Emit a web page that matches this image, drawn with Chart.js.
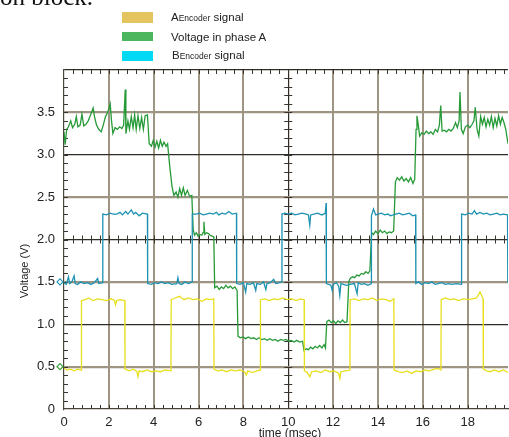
<!DOCTYPE html>
<html>
<head>
<meta charset="utf-8">
<script src="https://cdn.jsdelivr.net/npm/chart.js"></script>
<style>
    html, body { margin: 0; padding: 0; background: #fff; overflow: hidden; }
    #wrap { position: relative; width: 509px; height: 437px; font-family: "Liberation Sans", Arial, sans-serif; color: #222; }
    #chart { position: absolute; left: 0; top: 0; }
    .cut { position: absolute; left: 0; top: -16px; font: 25px/25px "Liberation Serif", serif; color: #111; white-space: nowrap; }
    .legend-box { position: absolute; left: 122px; width: 31px; }
    .legend-text { position: absolute; left: 171px; font-size: 11.5px; line-height: 12px; white-space: nowrap; }
    .legend-text small { font-size: 8.5px; }
    .x-title { position: absolute; left: 250px; top: 426px; width: 80px; text-align: center; font-size: 12px; }
    .y-title { position: absolute; left: -16px; top: 265px; width: 80px; text-align: center; font-size: 11px; transform: rotate(-90deg); }
</style>
</head>
<body>
<div id="wrap">
    <canvas id="chart" width="509" height="437"></canvas>
    <div class="cut">on block.</div>
    <div class="legend-box" style="top:12px;height:11px;background:#e4c45e"></div>
    <div class="legend-box" style="top:32px;height:9px;background:#4cb65e"></div>
    <div class="legend-box" style="top:51px;height:10px;background:#00d9f4"></div>
    <div class="legend-text" style="top:11px">A<small>Encoder</small> signal</div>
    <div class="legend-text" style="top:31px">Voltage in phase A</div>
    <div class="legend-text" style="top:49px;left:172px">B<small>Encoder</small> signal</div>
    <div class="x-title">time (msec)</div>
    <div class="y-title">Voltage (V)</div>
</div>
<script>
// tick labels
const xTicks = [0, 2, 4, 6, 8, 10, 12, 14, 16, 18];
const yTicks = [0, 0.5, 1.0, 1.5, 2.0, 2.5, 3.0, 3.5, 4.0];
const yLabels = ['0', '0.5', '1.0', '1.5', '2.0', '2.5', '3.0', '3.5', ''];

// channel reference levels (scope markers on the left edge)
const markerLevels = [1.5, 0.5];

// [time ms, volts]
const aEncoder = [
    [0,0.48],[0.15,0.46],[0.3,0.47],[0.45,0.45],[0.6,0.47],[0.77,0.46],
    [0.78,1.28],[0.95,1.29],[1.1,1.31],[1.3,1.28],[1.5,1.30],[1.7,1.29],[1.9,1.28],[2.1,1.30],[2.25,1.28],[2.3,1.23],[2.35,1.28],[2.5,1.29],[2.71,1.28],
    [2.72,0.47],[2.9,0.45],[3.1,0.47],[3.25,0.44],[3.3,0.38],[3.35,0.45],[3.5,0.44],[3.7,0.46],[3.9,0.44],[4.1,0.45],[4.3,0.44],[4.5,0.46],[4.77,0.45],
    [4.78,1.29],[4.95,1.31],[5.15,1.33],[5.35,1.29],[5.55,1.31],[5.75,1.29],[5.95,1.30],[6.15,1.27],[6.35,1.30],[6.55,1.29],[6.68,1.30],
    [6.69,0.47],[6.85,0.45],[7.05,0.46],[7.25,0.44],[7.45,0.46],[7.65,0.45],[7.85,0.46],[8.05,0.44],[8.13,0.40],[8.2,0.45],[8.4,0.43],[8.6,0.45],[8.75,0.46],
    [8.76,1.29],[8.95,1.30],[9.15,1.28],[9.35,1.30],[9.55,1.29],[9.75,1.31],[9.95,1.29],[10.15,1.30],[10.35,1.28],[10.55,1.30],[10.71,1.29],
    [10.72,0.45],[10.85,0.43],[10.96,0.38],[11.05,0.44],[11.25,0.45],[11.45,0.43],[11.65,0.46],[11.85,0.44],[12.05,0.45],[12.25,0.42],[12.3,0.36],[12.35,0.44],[12.55,0.45],[12.75,0.46],
    [12.76,1.29],[12.95,1.30],[13.15,1.28],[13.35,1.30],[13.55,1.29],[13.75,1.31],[13.95,1.28],[14.15,1.30],[14.35,1.29],[14.55,1.27],[14.71,1.30],
    [14.72,0.46],[14.9,0.44],[15.1,0.43],[15.3,0.45],[15.5,0.42],[15.7,0.45],[15.9,0.44],[16.1,0.46],[16.3,0.45],[16.5,0.47],[16.7,0.48],[16.81,0.46],
    [16.82,1.29],[17.0,1.31],[17.2,1.29],[17.4,1.30],[17.6,1.28],[17.8,1.30],[18.0,1.29],[18.2,1.30],[18.4,1.31],[18.55,1.38],[18.69,1.30],
    [18.70,0.47],[18.85,0.45],[19.0,0.44],[19.2,0.46],[19.4,0.44],[19.6,0.46],[19.8,0.43]
];

const bEncoder = [
    [0,1.49],[0.1,1.47],[0.2,1.56],[0.25,1.48],[0.35,1.50],[0.45,1.57],[0.5,1.48],[0.6,1.47],[0.75,1.50],[0.9,1.48],[1.05,1.49],[1.2,1.47],[1.35,1.49],[1.5,1.54],[1.55,1.48],[1.72,1.49],
    [1.73,2.30],[1.9,2.29],[2.05,2.31],[2.2,2.30],[2.35,2.30],[2.5,2.32],[2.6,2.29],[2.75,2.33],[2.85,2.30],[3.0,2.35],[3.1,2.30],[3.2,2.32],[3.35,2.28],[3.5,2.31],[3.72,2.30],
    [3.73,1.48],[3.9,1.47],[4.05,1.49],[4.2,1.48],[4.35,1.50],[4.5,1.48],[4.65,1.49],[4.8,1.47],[5.03,1.48],[5.08,1.55],[5.13,1.48],[5.25,1.47],[5.4,1.50],[5.55,1.48],[5.71,1.50],
    [5.72,2.30],[5.9,2.30],[6.05,2.31],[6.2,2.29],[6.35,2.30],[6.5,2.31],[6.65,2.30],[6.8,2.32],[6.9,2.29],[7.05,2.31],[7.2,2.30],[7.35,2.33],[7.5,2.30],[7.69,2.31],
    [7.70,1.48],[7.85,1.47],[8.0,1.49],[8.1,1.38],[8.15,1.48],[8.3,1.47],[8.45,1.49],[8.55,1.40],[8.6,1.48],[8.75,1.47],[8.9,1.50],[9.0,1.41],[9.05,1.48],[9.2,1.49],[9.35,1.53],[9.45,1.48],[9.6,1.49],[9.71,1.50],
    [9.72,2.30],[9.85,2.31],[10.0,2.30],[10.15,2.31],[10.3,2.29],[10.45,2.30],[10.6,2.31],[10.8,2.30],[10.9,2.29],[10.96,2.17],[11.0,2.29],[11.15,2.30],[11.3,2.31],[11.5,2.29],[11.65,2.31],[11.69,2.43],
    [11.70,1.48],[11.8,1.47],[11.9,1.46],[11.96,1.40],[12.0,1.47],[12.15,1.49],[12.25,1.45],[12.3,1.34],[12.35,1.48],[12.6,1.46],[12.75,1.47],[12.95,1.48],[13.07,1.36],[13.12,1.49],[13.25,1.47],[13.4,1.48],[13.55,1.46],[13.7,1.48],
    [13.71,2.28],[13.8,2.36],[13.9,2.29],[14.0,2.30],[14.15,2.31],[14.3,2.29],[14.45,2.30],[14.55,2.28],[14.68,2.29],[14.8,2.30],[14.95,2.31],[15.1,2.29],[15.25,2.30],[15.4,2.31],[15.55,2.28],[15.68,2.29],
    [15.69,1.48],[15.8,1.50],[15.95,1.47],[16.1,1.49],[16.25,1.48],[16.4,1.50],[16.55,1.47],[16.7,1.48],[16.85,1.49],[17.0,1.47],[17.15,1.48],[17.3,1.47],[17.5,1.48],[17.72,1.47],
    [17.73,2.30],[17.9,2.29],[18.05,2.31],[18.2,2.30],[18.3,2.34],[18.4,2.30],[18.55,2.32],[18.7,2.30],[18.85,2.31],[19.0,2.29],[19.15,2.30],[19.3,2.31],[19.45,2.29],[19.6,2.30],[19.78,2.29],
    [19.79,1.50],[19.8,1.49]
];

const phaseA = [
    [0,3.27],[0.05,3.12],[0.12,3.30],[0.2,3.33],[0.3,3.40],[0.38,3.32],[0.48,3.36],[0.55,3.45],[0.62,3.33],[0.72,3.35],[0.8,3.48],[0.88,3.34],[0.98,3.36],[1.08,3.40],[1.2,3.48],[1.3,3.55],[1.36,3.45],[1.45,3.35],[1.55,3.30],[1.66,3.27],
    [1.75,3.35],[1.85,3.45],[1.95,3.50],[2.06,3.60],[2.12,3.40],[2.18,3.25],[2.28,3.32],[2.38,3.30],[2.48,3.33],[2.58,3.31],[2.66,3.35],[2.73,3.77],[2.76,3.25],[2.85,3.40],[2.92,3.30],[3.0,3.45],[3.08,3.32],[3.15,3.47],[3.22,3.30],[3.3,3.46],[3.38,3.31],[3.46,3.44],[3.54,3.30],[3.62,3.46],[3.72,3.47],
    [3.8,3.13],[3.9,3.10],[3.98,3.17],[4.06,3.09],[4.14,3.16],[4.22,3.08],[4.3,3.17],[4.38,3.10],[4.46,3.15],[4.55,3.10],[4.62,3.13],
    [4.72,2.85],[4.82,2.62],[4.9,2.52],[5.0,2.56],[5.08,2.50],[5.16,2.60],[5.24,2.52],[5.32,2.61],[5.4,2.52],[5.5,2.58],[5.6,2.51],[5.7,2.52],
    [5.76,2.12],[5.82,2.05],[5.9,2.08],[5.98,2.04],[6.06,2.06],[6.14,2.05],[6.2,2.08],[6.24,2.21],[6.28,2.06],[6.36,2.08],[6.44,2.07],[6.52,2.05],[6.6,2.04],[6.68,2.03],
    [6.72,1.43],[6.82,1.45],[6.92,1.41],[7.02,1.44],[7.12,1.42],[7.22,1.46],[7.32,1.43],[7.42,1.45],[7.52,1.42],[7.62,1.44],[7.72,1.40],
    [7.76,0.86],[7.86,0.84],[7.98,0.85],[8.1,0.83],[8.22,0.85],[8.34,0.83],[8.46,0.84],[8.58,0.82],[8.7,0.84],[8.82,0.82],[8.94,0.83],[9.06,0.81],[9.18,0.83],[9.3,0.81],[9.42,0.82],[9.54,0.80],[9.66,0.82],[9.78,0.81],[9.9,0.82],[10.02,0.80],[10.14,0.81],[10.26,0.79],[10.38,0.81],[10.5,0.79],[10.64,0.80],
    [10.7,0.69],[10.8,0.71],[10.9,0.70],[11.0,0.73],[11.1,0.71],[11.2,0.74],[11.3,0.72],[11.4,0.75],[11.5,0.72],[11.6,0.76],[11.66,0.72],
    [11.72,1.03],[11.82,1.05],[11.92,1.02],[12.02,1.04],[12.12,1.01],[12.22,1.04],[12.32,1.02],[12.42,1.05],[12.52,1.02],[12.62,1.03],
    [12.7,1.50],[12.76,1.54],[12.86,1.56],[12.96,1.55],[13.06,1.58],[13.16,1.57],[13.26,1.60],[13.36,1.59],[13.46,1.62],[13.56,1.60],[13.64,1.63],
    [13.72,2.08],[13.8,2.06],[13.9,2.10],[14.0,2.07],[14.1,2.11],[14.2,2.08],[14.3,2.10],[14.4,2.07],[14.5,2.09],[14.6,2.08],[14.7,2.10],
    [14.78,2.68],[14.86,2.73],[14.96,2.70],[15.06,2.74],[15.16,2.69],[15.26,2.72],[15.36,2.68],[15.46,2.73],[15.56,2.66],[15.64,2.71],
    [15.7,3.30],[15.74,3.46],[15.8,3.35],[15.86,3.22],[15.96,3.26],[16.06,3.24],[16.16,3.28],[16.26,3.25],[16.36,3.27],[16.46,3.24],[16.56,3.30],[16.66,3.27],[16.74,3.35],[16.8,3.58],[16.86,3.28],
    [16.96,3.29],[17.06,3.27],[17.16,3.30],[17.26,3.28],[17.36,3.31],[17.46,3.38],[17.54,3.32],[17.62,3.40],[17.66,3.74],[17.72,3.30],[17.8,3.25],[17.9,3.33],[18.0,3.35],[18.1,3.32],[18.2,3.36],[18.28,3.40],[18.34,3.56],[18.42,3.30],[18.5,3.22],
    [18.58,3.45],[18.66,3.36],[18.74,3.44],[18.82,3.33],[18.9,3.42],[18.98,3.35],[19.06,3.45],[19.14,3.32],[19.22,3.43],[19.3,3.34],[19.38,3.46],[19.46,3.36],[19.54,3.44],[19.62,3.38],[19.7,3.30],[19.8,3.13]
];

const GRID_GRAY = '#9e9482';
const GRID_DARK = '#2f2b25';
const MARKER_COLORS = ['#2a9ab5', '#3f9f3a'];

// scope style small ticks on the frame and the centre lines
const scopeTicks = {
    id: 'scopeTicks',
    beforeDatasetsDraw(chart) {
        const { ctx, chartArea: a, scales: { x, y } } = chart;
        const cx = x.getPixelForValue(10);
        const cy = y.getPixelForValue(2);
        ctx.save();
        ctx.strokeStyle = '#3a362e';
        ctx.lineWidth = 1;
        ctx.beginPath();
        for (let i = 1; i < 50; i++) {
            const px = Math.round(x.getPixelForValue(i * 0.4)) + 0.5;
            if (px > a.right) break;
            ctx.moveTo(px, a.bottom); ctx.lineTo(px, a.bottom - 4);
            ctx.moveTo(px, a.top); ctx.lineTo(px, a.top + 4);
            ctx.moveTo(px, cy - 4); ctx.lineTo(px, cy + 4);
        }
        for (let i = 1; i < 40; i++) {
            const py = Math.round(y.getPixelForValue(i * 0.1)) + 0.5;
            ctx.moveTo(a.left, py); ctx.lineTo(a.left + 4, py);
            ctx.moveTo(cx - 4, py); ctx.lineTo(cx + 4, py);
        }
        ctx.stroke();

        // small channel markers just left of the frame
        markerLevels.forEach((lvl, i) => {
            const py = y.getPixelForValue(lvl);
            const px = a.left - 4;
            ctx.strokeStyle = MARKER_COLORS[i];
            ctx.lineWidth = 1.2;
            ctx.beginPath();
            ctx.moveTo(px - 3, py); ctx.lineTo(px, py - 3); ctx.lineTo(px + 3, py);
            ctx.lineTo(px, py + 3); ctx.closePath();
            ctx.stroke();
        });
        ctx.restore();
    }
};

document.addEventListener('DOMContentLoaded', () => {
    const toXY = arr => arr.map(([t, v]) => ({ x: t, y: v }));

    const trace = (label, data, color) => ({
        label: label,
        data: toXY(data),
        borderColor: color,
        borderWidth: 1.3,
        pointRadius: 0,
        tension: 0,
        fill: false
    });

    new Chart(document.getElementById('chart'), {
        type: 'line',
        data: {
            datasets: [
                trace('A Encoder signal', aEncoder, '#e8df1e'),
                trace('B Encoder signal', bEncoder, '#1d92b2'),
                trace('Voltage in phase A', phaseA, '#279a38')
            ]
        },
        options: {
            responsive: false,
            animation: false,
            devicePixelRatio: 1,
            layout: { padding: { top: 70, right: 1, left: 0, bottom: 0 } },
            plugins: {
                legend: { display: false },
                tooltip: { enabled: false }
            },
            scales: {
                x: {
                    type: 'linear',
                    min: 0,
                    max: 19.8,
                    afterBuildTicks: s => { s.ticks = xTicks.map(v => ({ value: v })); },
                    afterFit: s => { s.height = 28; },
                    ticks: {
                        autoSkip: false,
                        maxRotation: 0,
                        padding: 6,
                        color: '#222',
                        font: { family: '"Liberation Sans", Arial, sans-serif', size: 13 }
                    },
                    grid: {
                        drawTicks: false,
                        color: c => c.tick.value === 0 ? 'rgba(0,0,0,0)' : (c.tick.value === 10 ? GRID_DARK : GRID_GRAY),
                        lineWidth: c => c.tick.value === 10 ? 1.2 : 2
                    },
                    border: { display: true, color: '#4a463e', width: 1.2 }
                },
                y: {
                    min: 0,
                    max: 4.0,
                    afterBuildTicks: s => { s.ticks = yTicks.map(v => ({ value: v })); },
                    afterFit: s => { s.width = 64; },
                    ticks: {
                        padding: 9,
                        color: '#222',
                        font: { family: '"Liberation Sans", Arial, sans-serif', size: 13 },
                        callback: (v, i) => yLabels[i]
                    },
                    grid: {
                        drawTicks: false,
                        color: c => {
                            const v = c.tick.value;
                            if (v === 0) return 'rgba(0,0,0,0)';
                            if (v === 1 || v === 2 || v === 3 || v === 4) return GRID_DARK;
                            return GRID_GRAY;
                        },
                        lineWidth: c => [1, 2, 3, 4].includes(c.tick.value) ? 1.2 : 2.2
                    },
                    border: { display: true, color: '#4a463e', width: 1.2 }
                }
            }
        },
        plugins: [scopeTicks]
    });
});
</script>
</body>
</html>
